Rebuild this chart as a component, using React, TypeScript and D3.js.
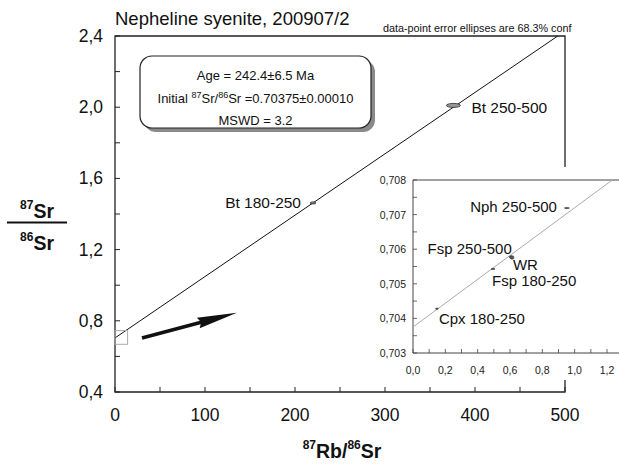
import React from "react";
import * as d3 from "d3";

// ---- data ----
const mainXDomain = [0, 500];
const mainYDomain = [0.4, 2.4];
const mainXTicks = [0, 100, 200, 300, 400, 500];
const mainXMinor = [50, 150, 250, 350, 450];
const mainYTicks = [0.4, 0.8, 1.2, 1.6, 2.0, 2.4];
const mainYMinor = [0.6, 1.0, 1.4, 1.8, 2.2];
const initialSr = 0.70375;
const slope = 0.003448;
const mainPoints = [
  { label: "Bt 180-250", x: 220, y: 1.462, rx: 3, ry: 1, dx: -12, dy: 5, anchor: "end" },
  { label: "Bt 250-500", x: 376, y: 2.01, rx: 7, ry: 2, dx: 18, dy: 8, anchor: "start" },
];
const arrowTail = [30, 0.704];
const arrowTip = [135.5, 0.845];
const originBox = [0, 14, 0.668, 0.745];

const insetXDomain = [0, 1.2];
const insetYDomain = [0.703, 0.708];
const insetXTicks = [0, 0.2, 0.4, 0.6, 0.8, 1.0, 1.2];
const insetXMinor = [0.1, 0.3, 0.5, 0.7, 0.9, 1.1];
const insetYTicks = [0.703, 0.704, 0.705, 0.706, 0.707, 0.708];
const insetYMinor = [0.7035, 0.7045, 0.7055, 0.7065, 0.7075];
const insetPoints = [
  { label: "Nph 250-500", x: 0.952, y: 0.70719, rx: 2.5, ry: 0.6, dx: -10, dy: 4, anchor: "end" },
  { label: "Fsp 250-500", x: 0.605, y: 0.70578, rx: 1.5, ry: 1, dx: 1, dy: -3, anchor: "end" },
  { label: "WR", x: 0.612, y: 0.70576, rx: 2, ry: 1.8, dx: 1, dy: 12, anchor: "start" },
  { label: "Fsp 180-250", x: 0.495, y: 0.70543, rx: 2, ry: 0.6, dx: -1, dy: 17, anchor: "start" },
  { label: "Cpx 180-250", x: 0.148, y: 0.70428, rx: 1.5, ry: 0.6, dx: 2, dy: 15, anchor: "start" },
];

const titleText = "Nepheline syenite, 200907/2";
const noteText = "data-point error ellipses are 68.3% conf";
const infoAge = "Age = 242.4±6.5 Ma";
const infoMswd = "MSWD = 3.2";

const FONT = "'Liberation Sans', Arial, Helvetica, sans-serif";
const comma = (v: number, d: number) => v.toFixed(d).replace(".", ",");

export default function App() {
  const x = d3.scaleLinear().domain(mainXDomain).range([115, 565]);
  const y = d3.scaleLinear().domain(mainYDomain).range([392, 36]);
  const ix = d3.scaleLinear().domain(insetXDomain).range([413, 607]);
  const iy = d3.scaleLinear().domain(insetYDomain).range([353, 180]);

  const line = d3.line<[number, number]>().x((d) => x(d[0])).y((d) => y(d[1]));
  const xEnd = (mainYDomain[1] - initialSr) / slope;
  const mainIso = line([
    [0, initialSr],
    [xEnd, mainYDomain[1]],
  ]);
  const ixEnd = (insetYDomain[1] - initialSr) / slope;
  const insetLine = d3.line<[number, number]>().x((d) => ix(d[0])).y((d) => iy(d[1]));
  const insetIso = insetLine([
    [0, initialSr],
    [ixEnd, insetYDomain[1]],
  ]);

  // arrow
  const ax0 = x(arrowTail[0]), ay0 = y(arrowTail[1]);
  const ax1 = x(arrowTip[0]), ay1 = y(arrowTip[1]);
  const ang = Math.atan2(ay1 - ay0, ax1 - ax0);
  const headLen = 40, headW = 5.5;
  const bx = ax1 - headLen * Math.cos(ang), by = ay1 - headLen * Math.sin(ang);
  const px = -Math.sin(ang), py = Math.cos(ang);
  const head = `M${ax1},${ay1} L${bx + px * headW},${by + py * headW} L${bx + 3 * Math.cos(ang)},${by + 3 * Math.sin(ang)} L${bx - px * headW},${by - py * headW} Z`;

  const [x0, x1] = [x(mainXDomain[0]), x(mainXDomain[1])];
  const [yb, yt] = [y(mainYDomain[0]), y(mainYDomain[1])];

  return (
    <svg width={619} height={468} style={{ position: "absolute", left: 0, top: 0, background: "#fff" }} fontFamily={FONT}>
      <rect width={619} height={468} fill="#fff" />
      {/* title */}
      <text x={115} y={25} fontSize={18.5} fill="#111">{titleText}</text>
      <text x={383} y={32} fontSize={10.8} fill="#111">{noteText}</text>

      {/* main frame */}
      <path d={`M${x0},${yt} L${x1},${yt} L${x1},${yb} L${x0},${yb} Z`} fill="none" stroke="#222" strokeWidth={1.3} />
      {mainYTicks.concat(mainYMinor).map((v) => (
        <line key={"yt" + v} x1={x0} x2={x0 + 5} y1={y(v)} y2={y(v)} stroke="#222" strokeWidth={1} />
      ))}
      {mainXTicks.concat(mainXMinor).map((v) => (
        <line key={"xt" + v} x1={x(v)} x2={x(v)} y1={yb} y2={yb - 5} stroke="#222" strokeWidth={1} />
      ))}
      {mainYTicks.map((v) => (
        <text key={"yl" + v} x={x0 - 12} y={y(v) + 6} fontSize={17.5} textAnchor="end" fill="#111">{comma(v, 1)}</text>
      ))}
      {mainXTicks.map((v) => (
        <text key={"xl" + v} x={x(v)} y={421} fontSize={17.5} textAnchor="middle" fill="#111">{v}</text>
      ))}

      {/* isochron */}
      <path d={mainIso || ""} fill="none" stroke="#111" strokeWidth={1} />
      <rect x={x(originBox[0])} y={y(originBox[3])} width={x(originBox[1]) - x(originBox[0])} height={y(originBox[2]) - y(originBox[3])} fill="none" stroke="#aaa" strokeWidth={1} />

      {/* main points */}
      {mainPoints.map((p) => (
        <g key={p.label}>
          <ellipse cx={x(p.x)} cy={y(p.y)} rx={p.rx} ry={p.ry} fill="#999" stroke="#222" strokeWidth={0.8} />
          <text x={x(p.x) + p.dx} y={y(p.y) + p.dy} fontSize={15.5} textAnchor={p.anchor} fill="#111">{p.label}</text>
        </g>
      ))}

      {/* arrow */}
      <line x1={ax0} y1={ay0} x2={bx + 4 * Math.cos(ang)} y2={by + 4 * Math.sin(ang)} stroke="#111" strokeWidth={3.6} />
      <path d={head} fill="#111" />

      {/* info box */}
      <rect x={144} y={60} width={231} height={72} rx={12} fill="#8a8a8a" />
      <rect x={140} y={56} width={231} height={72} rx={12} fill="#fff" stroke="#222" strokeWidth={1.2} />
      <text x={255.5} y={80} fontSize={13} textAnchor="middle" fill="#111">{infoAge}</text>
      <text x={255.5} y={103} fontSize={13} textAnchor="middle" fill="#111">
        Initial <tspan dy={-5} fontSize={9}>87</tspan><tspan dy={5}>Sr/</tspan><tspan dy={-5} fontSize={9}>86</tspan><tspan dy={5}>Sr =0.70375±0.00010</tspan>
      </text>
      <text x={255.5} y={125} fontSize={13} textAnchor="middle" fill="#111">{infoMswd}</text>

      {/* inset */}
      <rect x={372} y={167} width={260} height={213} fill="#fff" />
      <path d={`M630,${iy(0.708)} L${ix(0)},${iy(0.708)} L${ix(0)},${iy(0.703)} L630,${iy(0.703)}`} fill="none" stroke="#444" strokeWidth={1} />
      {insetYTicks.concat(insetYMinor).map((v) => (
        <line key={"iyt" + v} x1={ix(0)} x2={ix(0) + 4} y1={iy(v)} y2={iy(v)} stroke="#444" strokeWidth={0.8} />
      ))}
      {insetXTicks.concat(insetXMinor).map((v) => (
        <line key={"ixt" + v} x1={ix(v)} x2={ix(v)} y1={iy(0.703)} y2={iy(0.703) - 4} stroke="#444" strokeWidth={0.8} />
      ))}
      {insetYTicks.map((v) => (
        <text key={"iyl" + v} x={ix(0) - 7} y={iy(v) + 4} fontSize={10.5} textAnchor="end" fill="#222">{comma(v, 3)}</text>
      ))}
      {insetXTicks.map((v) => (
        <text key={"ixl" + v} x={ix(v)} y={374} fontSize={10.5} textAnchor="middle" fill="#222">{comma(v, 1)}</text>
      ))}
      <path d={insetIso || ""} fill="none" stroke="#aaa" strokeWidth={1} />
      {insetPoints.map((p) => (
        <g key={p.label}>
          <ellipse cx={ix(p.x)} cy={iy(p.y)} rx={p.rx} ry={p.ry} fill="#555" stroke="#333" strokeWidth={0.6} />
          <text x={ix(p.x) + p.dx} y={iy(p.y) + p.dy} fontSize={15} textAnchor={p.anchor} fill="#111">{p.label}</text>
        </g>
      ))}

      {/* y axis title */}
      <text x={37} y={218} fontSize={19.5} fontWeight="bold" textAnchor="middle" fill="#111">
        <tspan fontSize={12} dy={-9}>87</tspan><tspan dy={9}>Sr</tspan>
      </text>
      <line x1={7} x2={67} y1={222.5} y2={222.5} stroke="#111" strokeWidth={2} />
      <text x={37} y={250} fontSize={19.5} fontWeight="bold" textAnchor="middle" fill="#111">
        <tspan fontSize={12} dy={-9}>86</tspan><tspan dy={9}>Sr</tspan>
      </text>

      {/* x axis title */}
      <text x={342} y={458} fontSize={19.5} fontWeight="bold" textAnchor="middle" fill="#111">
        <tspan fontSize={12} dy={-9}>87</tspan><tspan dy={9}>Rb/</tspan><tspan fontSize={12} dy={-9}>86</tspan><tspan dy={9}>Sr</tspan>
      </text>
    </svg>
  );
}
